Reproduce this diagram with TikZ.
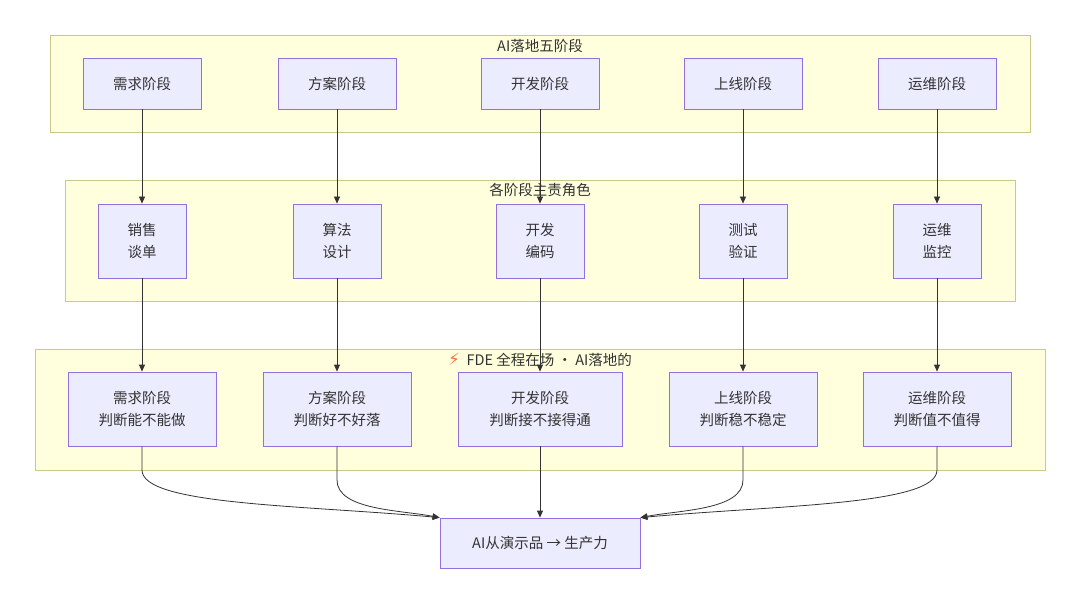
\documentclass[tikz,border=0pt]{standalone}
\usepackage{fontspec}
\setmainfont{Noto Sans CJK SC}
\newfontfamily\emo{DejaVu Sans}
\usetikzlibrary{arrows.meta}
\definecolor{grpfill}{HTML}{FFFFDE}
\definecolor{grpdraw}{HTML}{C9C98A}
\definecolor{nfill}{HTML}{ECECFF}
\definecolor{ndraw}{HTML}{9370DB}
\definecolor{txt}{HTML}{333333}
\definecolor{bolt}{HTML}{F4743B}
\begin{document}
\begin{tikzpicture}[x=1pt,y=-1pt,
  grp/.style={draw=grpdraw,fill=grpfill,line width=0.8pt},
  nd/.style={draw=ndraw,fill=nfill,line width=0.8pt,text=txt,font=\fontsize{14.5}{22}\selectfont,align=center,inner sep=0pt},
  ttl/.style={text=txt,font=\fontsize{14.5}{17}\selectfont},
  ar/.style={draw=txt,line width=0.8pt,-{Triangle[length=7pt,width=6pt]}}]
\useasboundingbox (0,0) rectangle (1080,604);
\fill[white] (0,0) rectangle (1080,604);
\draw[grp] (50,35) rectangle (1030,132);
\draw[grp] (65,180) rectangle (1015,301);
\draw[grp] (35,349) rectangle (1045,470);
\node[ttl] (t1) at (540,46) {AI落地五阶段};
\node[ttl] (t2) at (540,190) {各阶段主责角色};
\node[ttl] (t3) at (540,360) {{\emo\fontsize{17}{17}\selectfont\color{bolt}⚡}\ \ FDE 全程在场 · AI落地的};
\foreach \i/\x/\w/\a/\b/\c/\d/\e in {1/142/148/需求阶段/销售/谈单/需求阶段/判断能不能做,
  2/337/148/方案阶段/算法/设计/方案阶段/判断好不好落,
  3/540/164/开发阶段/开发/编码/开发阶段/判断接不接得通,
  4/743/148/上线阶段/测试/验证/上线阶段/判断稳不稳定,
  5/937/148/运维阶段/运维/监控/运维阶段/判断值不值得}{
  \node[nd,minimum width=118pt,minimum height=51pt] (a\i) at (\x,83.5) {\a};
  \node[nd,minimum width=88pt,minimum height=74pt] (b\i) at (\x,241) {\b\\\c};
  \node[nd,minimum width=\w pt,minimum height=74pt] (c\i) at (\x,409) {\d\\\e};
  \draw[ar] (a\i) -- (b\i);
  \draw[ar] (b\i) -- (c\i);
}
\node[nd,minimum width=200pt,minimum height=50pt] (z) at (540,543) {AI从演示品 → 生产力};
\draw[ar] (c1.south) -- (142,470) .. controls (142,505) and (300,505) .. (z.north west);
\draw[ar] (c2.south) -- (337,480) .. controls (337,510) and (400,510) .. (z.north west);
\draw[ar] (c3) -- (z);
\draw[ar] (c4.south) -- (743,480) .. controls (743,510) and (680,510) .. (z.north east);
\draw[ar] (c5.south) -- (937,470) .. controls (937,505) and (780,505) .. (z.north east);
\end{tikzpicture}
\end{document}
